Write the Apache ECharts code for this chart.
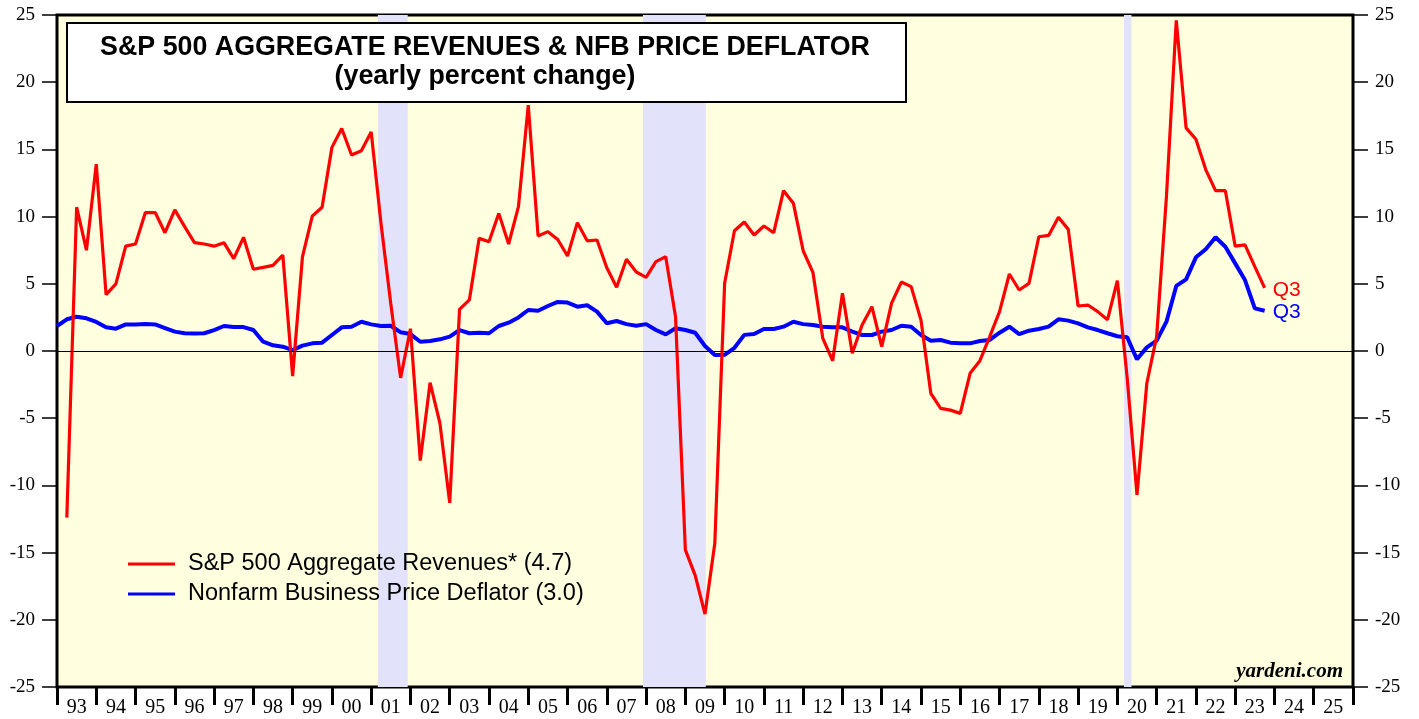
<!DOCTYPE html>
<html>
<head>
<meta charset="utf-8">
<script src="https://cdn.jsdelivr.net/npm/echarts@6/dist/echarts.min.js"></script>
<style>
  html, body { margin: 0; padding: 0; background: #fff; }
  #main { width: 1419px; height: 719px; }
</style>
</head>
<body>
<div id="main"></div>
<script>
// year labels under the axis
const yearLabels = ['93','94','95','96','97','98','99','00','01','02','03','04','05','06','07','08','09',
  '10','11','12','13','14','15','16','17','18','19','20','21','22','23','24','25'];

// S&P 500 aggregate revenues, yearly % change, quarterly from Q1 1993
const revStart = 1993.25;
const revenues = [
  -12.4, 10.7, 7.5, 13.9, 4.2, 5.0, 7.8, 7.96, 10.3, 10.3, 8.8, 10.5,
  9.25, 8.06, 7.96, 7.8, 8.06, 6.87, 8.46, 6.08, 6.22, 6.37, 7.14, -1.86,
  7.0, 10.04, 10.7, 15.15, 16.55, 14.58, 14.9, 16.3, 9.5, 3.5, -2.0, 1.66,
  -8.16, -2.36, -5.37, -11.3, 3.1, 3.8, 8.38, 8.13, 10.24, 7.96, 10.74, 18.3,
  8.56, 8.88, 8.3, 7.07, 9.55, 8.2, 8.26, 6.2, 4.74, 6.82, 5.88, 5.48,
  6.65, 7.02, 2.55, -14.8, -16.7, -19.57, -14.3, 5.04, 8.95, 9.6, 8.63, 9.3,
  8.8, 11.93, 11.0, 7.46, 5.83, 0.94, -0.72, 4.29, -0.17, 1.93, 3.3, 0.32,
  3.55, 5.13, 4.79, 2.3, -3.15, -4.27, -4.4, -4.64, -1.66, -0.72, 1.07, 2.93,
  5.73, 4.54, 5.03, 8.5, 8.6, 9.95, 9.05, 3.35, 3.42, 2.93, 2.33, 5.23,
  -2.0, -10.7, -2.4, 1.07, 11.5, 24.6, 16.6, 15.75, 13.5, 11.93, 11.93, 7.8,
  7.9, 6.28, 4.7
];

// Nonfarm business price deflator, yearly % change, quarterly from Q4 1992
const deflStart = 1993.0;
const deflator = [
  1.86, 2.36, 2.55, 2.43, 2.16, 1.76, 1.66, 1.98, 1.98, 2.0, 1.98, 1.71,
  1.44, 1.32, 1.3, 1.32, 1.56, 1.86, 1.78, 1.78, 1.56, 0.69, 0.42, 0.32,
  0.07, 0.4, 0.57, 0.62, 1.19, 1.76, 1.81, 2.18, 1.98, 1.86, 1.88, 1.39,
  1.26, 0.69, 0.74, 0.87, 1.07, 1.56, 1.32, 1.36, 1.32, 1.86, 2.11, 2.5,
  3.05, 3.0, 3.35, 3.65, 3.6, 3.3, 3.4, 2.93, 2.06, 2.23, 2.0, 1.88,
  2.0, 1.56, 1.24, 1.69, 1.56, 1.36, 0.37, -0.3, -0.28, 0.24, 1.2, 1.26,
  1.64, 1.64, 1.81, 2.18, 2.0, 1.93, 1.81, 1.76, 1.76, 1.44, 1.19, 1.19,
  1.44, 1.56, 1.88, 1.81, 1.19, 0.77, 0.82, 0.62, 0.57, 0.57, 0.74, 0.82,
  1.36, 1.81, 1.26, 1.51, 1.64, 1.81, 2.36, 2.26, 2.06, 1.76, 1.56, 1.32,
  1.1, 1.02, -0.62, 0.27, 0.77, 2.18, 4.84, 5.33, 6.97, 7.57, 8.46, 7.76,
  6.52, 5.28, 3.17, 3.0
];

// recessions (decimal years)
const recessions = [[2001.17, 2001.93], [2007.92, 2009.52], [2020.17, 2020.36]];

const revName = 'S&P 500 Aggregate Revenues* (4.7)';
const deflName = 'Nonfarm Business Price Deflator (3.0)';

const toPairs = (start, vals) => vals.map((v, i) => [start + i * 0.25, v]);

const serif = '"Liberation Serif", "Times New Roman", serif';
const sans = '"Liberation Sans", Arial, sans-serif';

const chart = echarts.init(document.getElementById('main'));

const yAxisBase = {
  type: 'value', min: -25, max: 25, interval: 5,
  axisLine: { show: false },
  axisTick: { show: true, length: 15, lineStyle: { color: '#000', width: 1.5 } },
  axisLabel: { margin: 22, color: '#000', fontFamily: serif, fontSize: 19 },
  splitLine: { show: false }
};

const option = {
  animation: false,
  grid: {
    left: 57, right: 66, top: 15, bottom: 32,
    show: true, backgroundColor: '#FFFFE0', borderColor: '#000', borderWidth: 3
  },
  xAxis: [
    {
      type: 'value', min: 1993, max: 2026, interval: 1,
      axisLine: { show: false, onZero: false },
      axisTick: { show: true, length: 18, lineStyle: { color: '#000', width: 3 } },
      axisLabel: { show: false },
      splitLine: { show: false }
    },
    {
      type: 'category', data: yearLabels, position: 'bottom', boundaryGap: true,
      axisLine: { show: false, onZero: false }, axisTick: { show: false }, splitLine: { show: false },
      axisLabel: { interval: 0, margin: 11, color: '#000', fontFamily: serif, fontSize: 20 }
    }
  ],
  yAxis: [
    Object.assign({ position: 'left' }, yAxisBase),
    Object.assign({ position: 'right' }, yAxisBase)
  ],
  legend: {
    data: [revName, deflName],
    orient: 'vertical', left: 123, top: 547,
    icon: 'rect', itemWidth: 47, itemHeight: 3, itemGap: 6,
    textStyle: { fontFamily: sans, fontSize: 23.5, color: '#000', padding: [0, 0, 0, 8] }
  },
  graphic: [
    {
      type: 'rect', left: 66, top: 22, z: 100,
      shape: { width: 839, height: 79 },
      style: { fill: '#fff', stroke: '#000', lineWidth: 2 }
    },
    {
      type: 'text', x: 485, y: 48, z: 101,
      style: { text: 'S&P 500 AGGREGATE REVENUES & NFB PRICE DEFLATOR', textAlign: 'center',
        textVerticalAlign: 'middle', font: 'bold 26.8px ' + sans, fill: '#000' }
    },
    {
      type: 'text', x: 485, y: 77, z: 101,
      style: { text: '(yearly percent change)', textAlign: 'center',
        textVerticalAlign: 'middle', font: 'bold 26.8px ' + sans, fill: '#000' }
    },
    {
      type: 'text', x: 1343, y: 672, z: 101,
      style: { text: 'yardeni.com', textAlign: 'right', textVerticalAlign: 'middle',
        font: 'italic bold 21px ' + serif, fill: '#000' }
    }
  ],
  series: [
    {
      name: 'recessions', type: 'line', data: [], silent: true, z: 1,
      markArea: {
        silent: true,
        itemStyle: { color: '#E2E2FA' },
        data: recessions.map(r => [{ xAxis: r[0] }, { xAxis: r[1] }])
      }
    },
    {
      name: revName, type: 'line', data: toPairs(revStart, revenues),
      showSymbol: false, z: 4,
      lineStyle: { color: '#FF0000', width: 3.2 },
      itemStyle: { color: '#FF0000' },
      endLabel: { show: true, formatter: 'Q3', color: '#FF0000', fontFamily: sans, fontSize: 21, distance: 8, offset: [0, 2] },
      markLine: {
        silent: true, symbol: 'none', label: { show: false },
        lineStyle: { color: '#000', width: 1, type: 'solid' },
        data: [{ yAxis: 0 }]
      }
    },
    {
      name: deflName, type: 'line', data: toPairs(deflStart, deflator),
      showSymbol: false, z: 3,
      lineStyle: { color: '#0000FF', width: 4 },
      itemStyle: { color: '#0000FF' },
      endLabel: { show: true, formatter: 'Q3', color: '#0000FF', fontFamily: sans, fontSize: 21, distance: 8, offset: [0, 2] }
    }
  ]
};

chart.setOption(option);
</script>
</body>
</html>
